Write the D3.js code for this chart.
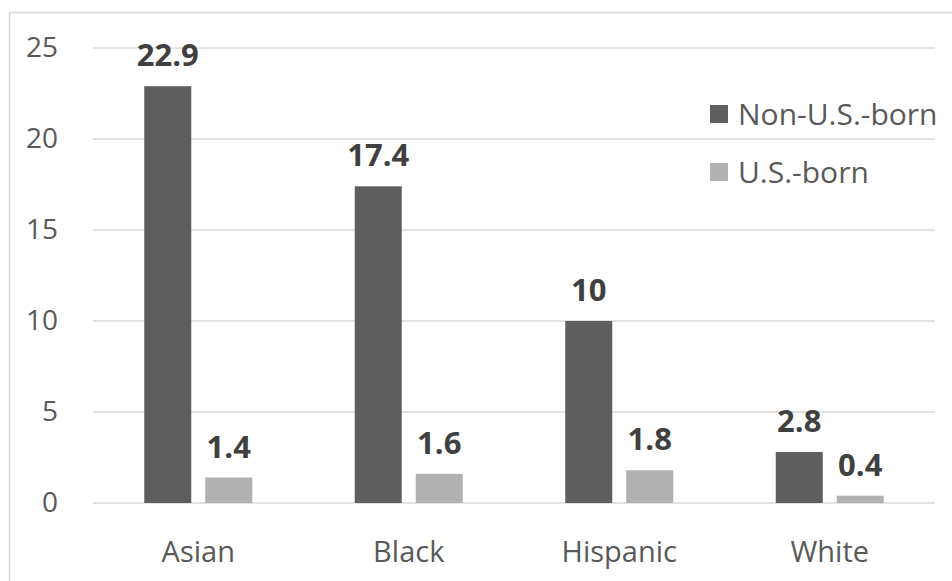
<!DOCTYPE html>
<html>
<head>
<meta charset="utf-8">
<script src="https://cdn.jsdelivr.net/npm/d3@7"></script>
<style>
  html, body { margin: 0; padding: 0; background: #fff; }
  svg { display: block; font-family: "Open Sans", "Noto Sans", sans-serif; }
</style>
</head>
<body>
<svg id="chart" width="952" height="581"></svg>
<script>
const categories = ["Asian", "Black", "Hispanic", "White"];
const seriesNames = ["Non-U.S.-born", "U.S.-born"];
const nonUSBorn = [22.9, 17.4, 10, 2.8];
const usBorn = [1.4, 1.6, 1.8, 0.4];
const yTicks = [0, 5, 10, 15, 20, 25];

const seriesValues = [nonUSBorn, usBorn];
const colors = ["#5e5e5e", "#b1b1b1"];

const svg = d3.select("#chart");

// chart border
svg.append("rect")
  .attr("x", 9.5).attr("y", 12.5)
  .attr("width", 1000).attr("height", 1000)
  .attr("fill", "none").attr("stroke", "#d6d6d6").attr("stroke-width", 1.5);

const plotLeft = 93, plotRight = 935;
const y = d3.scaleLinear().domain([0, 25]).range([503, 48]);
const x0 = d3.scaleBand().domain(categories).range([plotLeft, plotRight]).padding(0);
const x1 = d3.scaleBand().domain(seriesNames).range([0, 108]).paddingInner(14 / 61).paddingOuter(0);

// gridlines
svg.append("g").selectAll("line").data(yTicks).join("line")
  .attr("x1", plotLeft).attr("x2", plotRight)
  .attr("y1", d => y(d)).attr("y2", d => y(d))
  .attr("stroke", "#d9d9d9").attr("stroke-width", 1.5);

// y axis labels
const yAxis = d3.axisLeft(y).tickValues(yTicks).tickSize(0).tickPadding(0).tickFormat(d3.format("d"));
const yg = svg.append("g").attr("transform", "translate(58,0)").call(yAxis);
yg.select(".domain").remove();
yg.selectAll("text")
  .attr("fill", "#595959").attr("font-size", 28).attr("font-family", "Open Sans, sans-serif");

// bars
const groups = svg.append("g").selectAll("g").data(categories).join("g")
  .attr("transform", d => `translate(${x0(d) + x0.bandwidth() / 2 - 54},0)`);

groups.each(function(cat, i) {
  const g = d3.select(this);
  seriesNames.forEach((s, si) => {
    const v = seriesValues[si][i];
    g.append("rect")
      .attr("x", x1(s)).attr("width", x1.bandwidth())
      .attr("y", y(v)).attr("height", y(0) - y(v))
      .attr("fill", colors[si]);
    g.append("text")
      .attr("x", x1(s) + x1.bandwidth() / 2)
      .attr("y", y(v) - 20)
      .attr("text-anchor", "middle")
      .attr("font-size", 31).attr("font-weight", "bold")
      .attr("fill", "#404040")
      .text(String(v));
  });
});

// x axis labels
const xAxis = d3.axisBottom(x0).tickSize(0).tickPadding(0);
const xg = svg.append("g").attr("transform", "translate(0,0)").call(xAxis);
xg.select(".domain").remove();
xg.selectAll("text")
  .attr("y", 562).attr("dy", null)
  .attr("fill", "#595959").attr("font-size", 29).attr("font-family", "Open Sans, sans-serif");

// legend
const legend = svg.append("g").selectAll("g").data(seriesNames).join("g")
  .attr("transform", (d, i) => `translate(710,${105 + i * 58})`);
legend.append("rect").attr("width", 18).attr("height", 18).attr("fill", (d, i) => colors[i]);
legend.append("text").attr("x", 28).attr("y", 20)
  .attr("font-size", 30).attr("fill", "#595959").text(d => d);
</script>
</body>
</html>
